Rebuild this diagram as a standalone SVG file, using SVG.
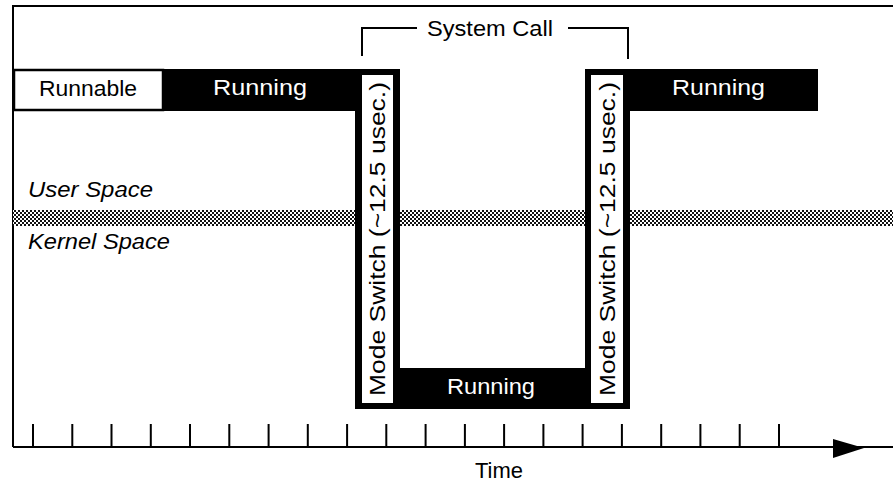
<svg xmlns="http://www.w3.org/2000/svg" width="893" height="482" viewBox="0 0 893 482">
<style>
text{font-family:"Liberation Sans",Arial,Helvetica,sans-serif;font-size:22px;fill:#000}
.w{fill:#fff}
.i{font-style:italic}
.ln{stroke:#000;stroke-width:2;fill:none}
.tk{stroke:#000;stroke-width:2}
</style>
<defs>
<pattern id="chk" width="4" height="4" patternUnits="userSpaceOnUse">
<rect width="4" height="4" fill="#fff"/>
<rect width="2" height="2" fill="#111"/>
<rect x="2" y="2" width="2" height="2" fill="#111"/>
</pattern>
</defs>
<rect width="893" height="482" fill="#fff"/>
<g id="frame">
<path class="ln" d="M893 6H13V447"/>
</g>
<g id="boundary">
<rect x="13" y="210" width="880" height="16" fill="url(#chk)"/>
<text class="i" x="28" y="197" textLength="125" lengthAdjust="spacingAndGlyphs">User Space</text>
<text class="i" x="28" y="249" textLength="142" lengthAdjust="spacingAndGlyphs">Kernel Space</text>
</g>
<g id="runnable">
<rect x="14" y="70" width="149" height="40" fill="#fff" stroke="#000" stroke-width="2.5"/>
<text x="39" y="96" textLength="98" lengthAdjust="spacingAndGlyphs">Runnable</text>
</g>
<g id="running-path">
<path d="M163 69H400V368H585V69H818V111H630V409H355V111H163Z" fill="#000"/>
<text class="w" x="213" y="95" textLength="94" lengthAdjust="spacingAndGlyphs">Running</text>
<text class="w" x="672" y="95" textLength="93" lengthAdjust="spacingAndGlyphs">Running</text>
<text class="w" x="447" y="394" textLength="88" lengthAdjust="spacingAndGlyphs">Running</text>
</g>
<g id="mode-switch-1">
<rect x="362" y="75" width="31" height="328" fill="#fff"/>
<text transform="translate(385,396) rotate(-90)" textLength="314" lengthAdjust="spacingAndGlyphs">Mode Switch (~12.5 usec.)</text>
</g>
<g id="mode-switch-2">
<rect x="591" y="75" width="32" height="328" fill="#fff"/>
<text transform="translate(615,396) rotate(-90)" textLength="314" lengthAdjust="spacingAndGlyphs">Mode Switch (~12.5 usec.)</text>
</g>
<g id="system-call">
<path class="ln" d="M362 56V28H417M568 28H628V59"/>
<text x="427" y="36" textLength="126" lengthAdjust="spacingAndGlyphs">System Call</text>
</g>
<g id="connectors">
<path class="ln" d="M13 447H893"/>
<path class="tk" d="M33 424V447M72.3 424V447M111.5 424V447M150.8 424V447M190 424V447M229.3 424V447M268.6 424V447M307.8 424V447M347.1 424V447M386.3 424V447M425.6 424V447M464.9 424V447M504.1 424V447M543.4 424V447M582.6 424V447M621.9 424V447M661.2 424V447M700.4 424V447M739.7 424V447M779 424V447"/>
<polygon points="833,439 864,448 833,458" fill="#000"/>
<text x="475" y="478" textLength="48" lengthAdjust="spacingAndGlyphs">Time</text>
</g>
</svg>
